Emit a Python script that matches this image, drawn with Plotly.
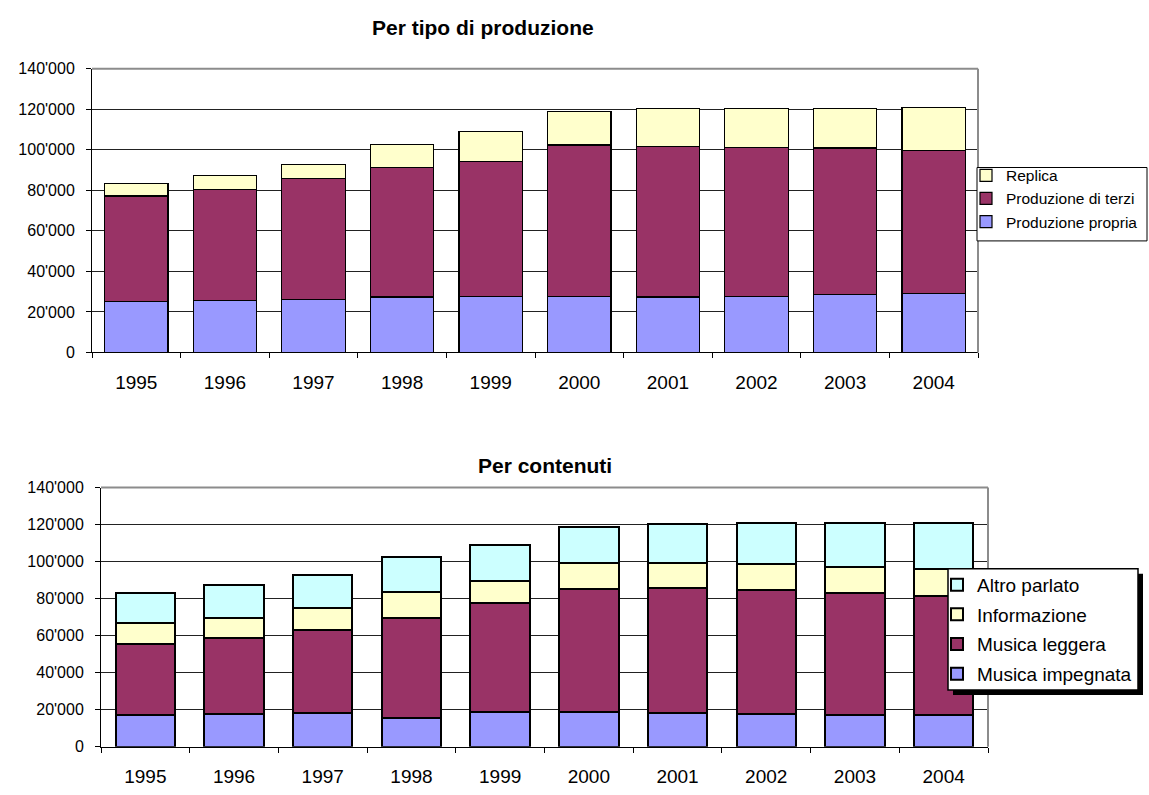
import plotly.graph_objects as go

years = ["1995", "1996", "1997", "1998", "1999", "2000", "2001", "2002", "2003", "2004"]

# Chart 1: Per tipo di produzione (segment values)
produzione_propria = [25100, 25600, 26100, 27400, 27800, 27700, 27400, 27800, 28600, 29100]
produzione_terzi = [52100, 54700, 59700, 63700, 66600, 74600, 74100, 73400, 72300, 70700]
replica = [6100, 6900, 7100, 11300, 14700, 16400, 19000, 19300, 19600, 21100]

# Chart 2: Per contenuti (segment values)
musica_impegnata = [17400, 17700, 18200, 15600, 18600, 18600, 18200, 17500, 17000, 17000]
musica_leggera = [38000, 40900, 45100, 53700, 59300, 66700, 67500, 67200, 66100, 64400]
informazione = [11400, 11200, 11400, 14200, 11900, 13700, 13700, 14200, 14200, 14400]
altro_parlato = [16400, 17400, 17900, 18800, 19100, 19800, 20900, 21700, 23300, 25300]

ytick_vals = [0, 20000, 40000, 60000, 80000, 100000, 120000, 140000]
ytick_text = ["0", "20'000", "40'000", "60'000", "80'000", "100'000", "120'000", "140'000"]

W, H = 1149, 795
BLUE, PURPLE, YELLOW, CYAN = "#9999FF", "#993366", "#FFFFCC", "#CCFFFF"
FONT = "Liberation Sans, Arial, sans-serif"

fig = go.Figure()

def add(vals, name, color, xa, ya, legend, lw, rank, width):
    fig.add_trace(go.Bar(x=years, y=vals, name=name, xaxis=xa, yaxis=ya, legend=legend,
                         legendgroup=name, legendrank=rank, width=width,
                         marker=dict(color=color, line=dict(color="black", width=lw)),
                         hoverinfo="x+y+name"))

add(produzione_propria, "Produzione propria", BLUE, "x", "y", "legend", 1.2, 3, 0.715)
add(produzione_terzi, "Produzione di terzi", PURPLE, "x", "y", "legend", 1.2, 2, 0.715)
add(replica, "Replica", YELLOW, "x", "y", "legend", 1.2, 1, 0.715)

add(musica_impegnata, "Musica impegnata", BLUE, "x2", "y2", "legend2", 2, 4, 0.67)
add(musica_leggera, "Musica leggera", PURPLE, "x2", "y2", "legend2", 2, 3, 0.67)
add(informazione, "Informazione", YELLOW, "x2", "y2", "legend2", 2, 2, 0.67)
add(altro_parlato, "Altro parlato", CYAN, "x2", "y2", "legend2", 2, 1, 0.67)

# pixel geometry
top = dict(l=92, r=978, t=62, b=352)
bot = dict(l=101, r=988, t=490, b=755)
leg1_box = dict(l=977, r=1147, t=163, b=238)
leg2_box = dict(l=948, r=1138, t=573, b=697)

def xd(p):
    return [p["l"] / W, p["r"] / W]

def yd(p):
    return [1 - p["b"] / H, 1 - p["t"] / H]

def xax(standoff):
    return dict(type="category", showgrid=False, ticks="outside", tickson="boundaries", ticklen=5,
                tickcolor="black", showline=True, linecolor="black", linewidth=1,
                ticklabelstandoff=standoff,
                tickfont=dict(size=19, color="black", family=FONT), fixedrange=True)

ycommon = dict(range=[0, 140000], tickvals=ytick_vals, ticktext=ytick_text, showgrid=True,
               gridcolor="#222222", gridwidth=1, ticks="outside", ticklen=5, tickcolor="black",
               showline=True, linecolor="black", linewidth=1, zeroline=False,
               ticklabelstandoff=8,
               tickfont=dict(size=16, color="black", family=FONT), fixedrange=True)

fig.update_layout(
    width=W, height=H, autosize=False,
    margin=dict(l=0, r=0, t=0, b=0),
    paper_bgcolor="white", plot_bgcolor="white",
    barmode="stack",
    font=dict(family=FONT, color="black"),
    xaxis=dict(domain=xd(top), anchor="y", **xax(13)),
    yaxis=dict(domain=yd(top), anchor="x", **ycommon),
    xaxis2=dict(domain=xd(bot), anchor="y2", **xax(12)),
    yaxis2=dict(domain=yd(bot), anchor="x2", **ycommon),
    legend=dict(x=966 / W, y=1 - 154 / H, xanchor="left", yanchor="top", traceorder="grouped",
                bgcolor="rgba(0,0,0,0)", borderwidth=0,
                font=dict(size=15.5, family=FONT), itemwidth=30, tracegroupgap=0),
    legend2=dict(x=937 / W, y=1 - 570 / H, xanchor="left", yanchor="top", traceorder="grouped",
                 bgcolor="rgba(0,0,0,0)", borderwidth=0,
                 font=dict(size=19, family=FONT), itemwidth=30, tracegroupgap=2),
    showlegend=True,
)

def rect(b, dx=0, dy=0, **kw):
    return dict(type="rect", xref="paper", yref="paper",
                x0=(b["l"] + dx) / W, x1=(b["r"] + dx) / W,
                y0=1 - (b["b"] + dy) / H, y1=1 - (b["t"] + dy) / H, layer="above", **kw)

shapes = []
# gray plot-area borders (top & right)
for p in (top, bot):
    shapes.append(dict(type="line", xref="paper", yref="paper", x0=p["l"] / W, x1=p["r"] / W,
                       y0=1 - p["t"] / H, y1=1 - p["t"] / H, line=dict(color="#8c8c8c", width=2), layer="above"))
    shapes.append(dict(type="line", xref="paper", yref="paper", x0=p["r"] / W, x1=p["r"] / W,
                       y0=1 - p["t"] / H, y1=1 - p["b"] / H, line=dict(color="#8c8c8c", width=2), layer="above"))
# legend boxes
shapes.append(rect(leg1_box, fillcolor="white", line=dict(color="black", width=1)))
shapes.append(rect(leg2_box, 5, 5, fillcolor="black", line=dict(width=0)))
shapes.append(rect(leg2_box, fillcolor="white", line=dict(color="black", width=1.5)))
fig.update_layout(shapes=shapes)

fig.add_annotation(text="<b>Per tipo di produzione</b>", xref="paper", yref="paper", x=483 / W, y=1 - 20 / H,
                   xanchor="center", yanchor="middle",
                   showarrow=False, font=dict(size=21, family=FONT, color="black"))
fig.add_annotation(text="<b>Per contenuti</b>", xref="paper", yref="paper", x=545 / W, y=1 - 467 / H,
                   xanchor="center", yanchor="middle",
                   showarrow=False, font=dict(size=21, family=FONT, color="black"))

fig.write_html("out.html")
